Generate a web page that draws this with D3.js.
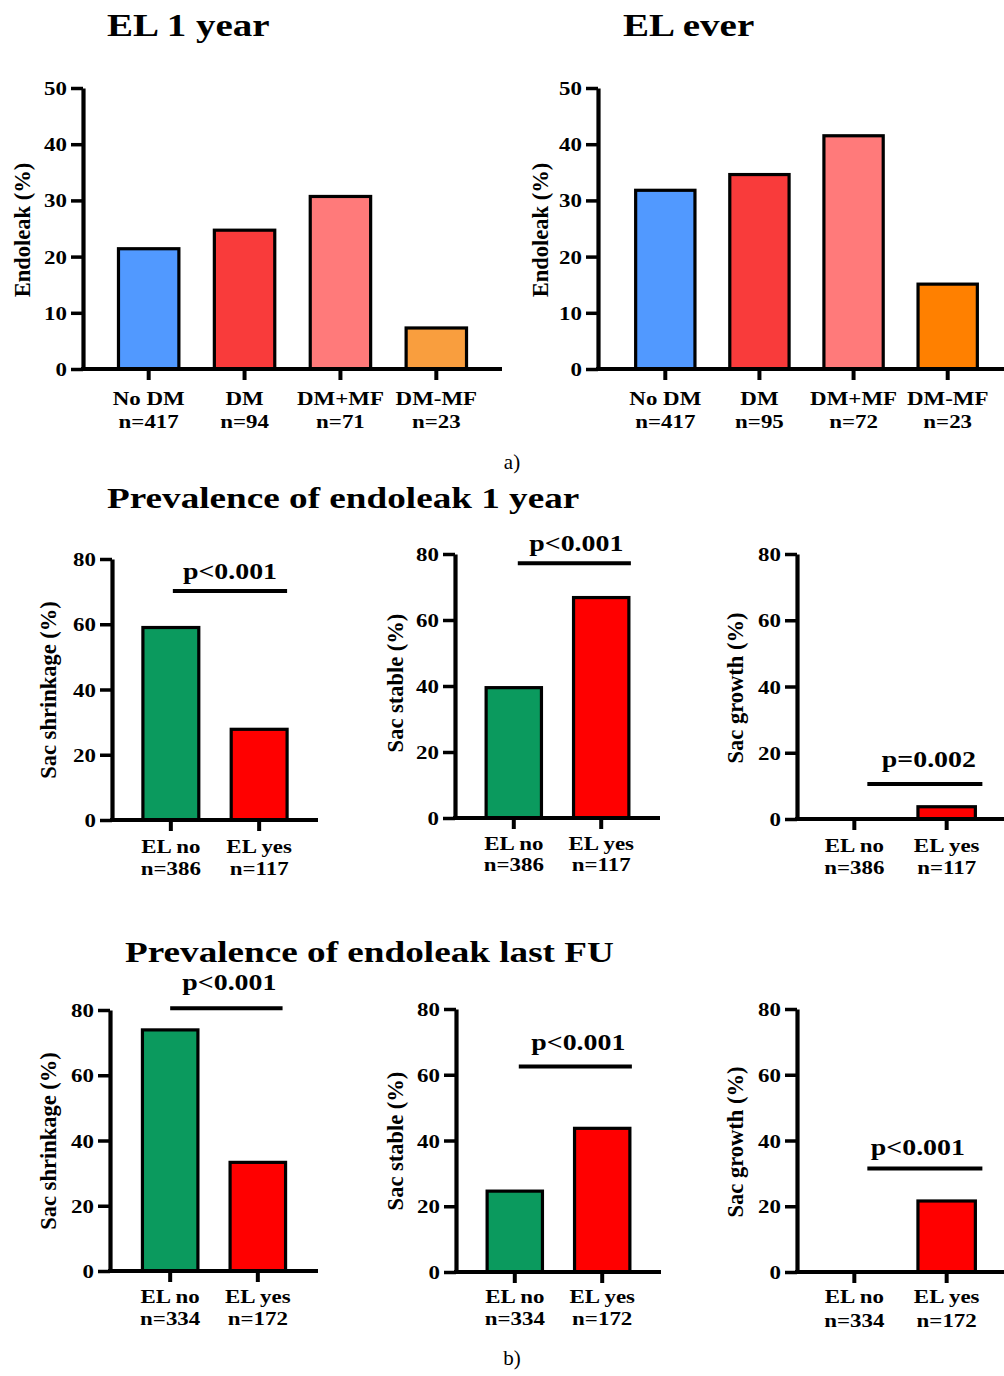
<!DOCTYPE html>
<html>
<head>
<meta charset="utf-8">
<script src="https://cdn.jsdelivr.net/npm/d3@7/dist/d3.min.js"></script>
<style>
  html, body { margin: 0; padding: 0; background: #fff; }
  svg { display: block; }
  text { font-family: "Liberation Serif", "Times New Roman", serif; fill: #000; }
</style>
</head>
<body>
<svg id="chart" width="1004" height="1376"></svg>
<script>
// ---------------- DATA ----------------
const dmCategories = ["No DM", "DM", "DM+MF", "DM-MF"];
const el1YearCounts = ["n=417", "n=94", "n=71", "n=23"];
const elEverCounts = ["n=417", "n=95", "n=72", "n=23"];
const el1YearValues = [21.4, 24.7, 30.7, 7.3];
const elEverValues = [31.8, 34.6, 41.5, 15.1];
const endoleakTicks = [0, 10, 20, 30, 40, 50];

const sacCategories = ["EL no", "EL yes"];
const oneYearCounts = ["n=386", "n=117"];
const lastFuCounts = ["n=334", "n=172"];
const shrink1Year = [59.0, 27.8];
const stable1Year = [39.5, 66.8];
const growth1Year = [0, 3.7];
const shrinkLastFu = [73.9, 33.3];
const stableLastFu = [24.6, 43.7];
const growthLastFu = [0, 21.6];
const sacTicks = [0, 20, 40, 60, 80];

const pLabels = ["p<0.001", "p<0.001", "p=0.002", "p<0.001", "p<0.001", "p<0.001"];
const pLevels = [70.2, 77.2, 10.6, 80.5, 62.5, 31.5];

const dmColorsA = ["#5199ff", "#f93b3b", "#ff7a7a", "#f99e3e"];
const dmColorsB = ["#5199ff", "#f93b3b", "#ff7a7a", "#ff8000"];
const sacColors = ["#0b9a5e", "#ff0000"];

// ---------------- DRAW ----------------
const svg = d3.select("#chart");
const SX = 1.24;

function hText(g, str, x, y, size, anchor, weight) {
  return g.append("text")
    .attr("transform", `translate(${x},${y}) scale(${SX},1)`)
    .attr("text-anchor", anchor || "middle")
    .style("font-size", size + "px")
    .style("font-weight", weight || "bold")
    .text(str);
}

function panel(cfg) {
  const g = svg.append("g");
  const y = d3.scaleLinear().domain([0, cfg.max]).range([cfg.y0, cfg.yTop]);
  const x = d3.scaleBand().domain(cfg.categories).range([cfg.axisX, cfg.xEnd])
    .paddingInner(cfg.pi).paddingOuter(cfg.po).align(cfg.align == null ? 0.5 : cfg.align);

  // bars
  g.selectAll("rect.bar").data(cfg.values).join("rect")
    .attr("class", "bar")
    .attr("x", (d, i) => x(cfg.categories[i]))
    .attr("width", x.bandwidth())
    .attr("y", d => y(d))
    .attr("height", d => Math.max(0, y(0) - y(d)))
    .attr("fill", (d, i) => cfg.colors[i])
    .attr("stroke", d => d > 0 ? "#000" : "none")
    .attr("stroke-width", 3.2);

  // y axis
  const ya = g.append("g").attr("transform", `translate(${cfg.axisX},0)`)
    .call(d3.axisLeft(y).tickValues(cfg.ticks).tickSize(12).tickSizeOuter(0).tickPadding(5));
  ya.select(".domain").attr("stroke", "#000").attr("stroke-width", 4.2);
  ya.selectAll(".tick line").attr("stroke", "#000").attr("stroke-width", 3.5);
  ya.selectAll(".tick text")
    .attr("x", null).attr("dy", null)
    .attr("transform", `translate(-16,6.5) scale(${SX},1)`)
    .style("font-size", "18.5px").style("font-weight", "bold").style("fill", "#000");
  ya.attr("font-family", null).attr("font-size", null);

  // x axis
  const xa = g.append("g").attr("transform", `translate(0,${cfg.y0})`)
    .call(d3.axisBottom(x).tickSize(11).tickSizeOuter(0).tickFormat(""));
  xa.select(".domain").attr("stroke", "#000").attr("stroke-width", 4.2)
    .attr("d", `M${cfg.axisX - 2},0H${cfg.xEnd}`);
  xa.selectAll(".tick line").attr("stroke", "#000").attr("stroke-width", 4);

  // category labels
  cfg.categories.forEach((c, i) => {
    const cx = x(c) + x.bandwidth() / 2;
    hText(g, c, cx, cfg.y0 + cfg.lab1, 18.5);
    hText(g, cfg.counts[i], cx, cfg.y0 + cfg.lab2, 18.5);
  });

  // y label
  g.append("text")
    .attr("transform", `translate(${cfg.ylx},${cfg.yly}) rotate(-90)`)
    .attr("text-anchor", "middle").attr("dy", "0.35em")
    .style("font-size", "22.5px").style("font-weight", "bold")
    .text(cfg.ylabel);

  // significance bracket
  if (cfg.p != null) {
    const c0 = x(cfg.categories[0]) + x.bandwidth() / 2;
    const e1 = x(cfg.categories[1]) + x.bandwidth();
    const x1 = c0 + cfg.pL, x2 = e1 + cfg.pR;
    const ly = y(pLevels[cfg.p]);
    g.append("line").attr("x1", x1).attr("x2", x2).attr("y1", ly).attr("y2", ly)
      .attr("stroke", "#000").attr("stroke-width", 4);
    hText(g, pLabels[cfg.p], (x1 + x2) / 2 + cfg.pTx, ly - cfg.pDy, 22.5);
  }
}

// titles
hText(svg, "EL 1 year", 107, 36, 31.5, "start");
hText(svg, "EL ever", 623, 36, 31.5, "start");
hText(svg, "Prevalence of endoleak 1 year", 107, 508, 30, "start");
hText(svg, "Prevalence of endoleak last FU", 125, 962, 30, "start");
svg.append("text").attr("x", 512).attr("y", 469).attr("text-anchor", "middle")
  .style("font-size", "21px").text("a)");
svg.append("text").attr("x", 512).attr("y", 1365).attr("text-anchor", "middle")
  .style("font-size", "21px").text("b)");

// top panels
panel({ categories: dmCategories, counts: el1YearCounts, values: el1YearValues, colors: dmColorsA,
  ticks: endoleakTicks, max: 50, y0: 369, yTop: 88, axisX: 83, xEnd: 502, pi: 0.37, po: 0.37,
  lab1: 36, lab2: 59, ylabel: "Endoleak (%)", ylx: 22, yly: 230 });
panel({ categories: dmCategories, counts: elEverCounts, values: elEverValues, colors: dmColorsB,
  ticks: endoleakTicks, max: 50, y0: 369, yTop: 88, axisX: 598, xEnd: 1015, pi: 0.37, po: 0.4,
  lab1: 36, lab2: 59, ylabel: "Endoleak (%)", ylx: 540, yly: 230 });

// middle row
panel({ categories: sacCategories, counts: oneYearCounts, values: shrink1Year, colors: sacColors,
  ticks: sacTicks, max: 80, y0: 820, yTop: 559, axisX: 112, xEnd: 318, pi: 0.367, po: 0.35,
  lab1: 33, lab2: 55, ylabel: "Sac shrinkage (%)", ylx: 48, yly: 690, p: 0, pL: 2, pR: 0, pTx: 0, pDy: 12 });
panel({ categories: sacCategories, counts: oneYearCounts, values: stable1Year, colors: sacColors,
  ticks: sacTicks, max: 80, y0: 818, yTop: 554, axisX: 455, xEnd: 660, pi: 0.367, po: 0.356,
  lab1: 32, lab2: 53, ylabel: "Sac stable (%)", ylx: 395, yly: 683, p: 1, pL: 4, pR: 2, pTx: 2, pDy: 12 });
panel({ categories: sacCategories, counts: oneYearCounts, values: growth1Year, colors: sacColors,
  ticks: sacTicks, max: 80, y0: 819, yTop: 554, axisX: 797, xEnd: 1004, pi: 0.378, po: 0.31, align: 0.5,
  lab1: 33, lab2: 55, ylabel: "Sac growth (%)", ylx: 735, yly: 688, p: 2, pL: 13, pR: 7, pTx: 4, pDy: 17 });

// bottom row
panel({ categories: sacCategories, counts: lastFuCounts, values: shrinkLastFu, colors: sacColors,
  ticks: sacTicks, max: 80, y0: 1271, yTop: 1010, axisX: 110, xEnd: 318, pi: 0.367, po: 0.37,
  lab1: 32, lab2: 54, ylabel: "Sac shrinkage (%)", ylx: 48, yly: 1141, p: 3, pL: 0, pR: -3, pTx: 3, pDy: 18 });
panel({ categories: sacCategories, counts: lastFuCounts, values: stableLastFu, colors: sacColors,
  ticks: sacTicks, max: 80, y0: 1272, yTop: 1009, axisX: 456, xEnd: 661, pi: 0.367, po: 0.356,
  lab1: 31, lab2: 53, ylabel: "Sac stable (%)", ylx: 395, yly: 1141, p: 4, pL: 4, pR: 2, pTx: 3, pDy: 17 });
panel({ categories: sacCategories, counts: lastFuCounts, values: growthLastFu, colors: sacColors,
  ticks: sacTicks, max: 80, y0: 1272, yTop: 1009, axisX: 797, xEnd: 1004, pi: 0.378, po: 0.31,
  lab1: 31, lab2: 55, ylabel: "Sac growth (%)", ylx: 735, yly: 1142, p: 5, pL: 13, pR: 7, pTx: -7, pDy: 13 });
</script>
</body>
</html>
